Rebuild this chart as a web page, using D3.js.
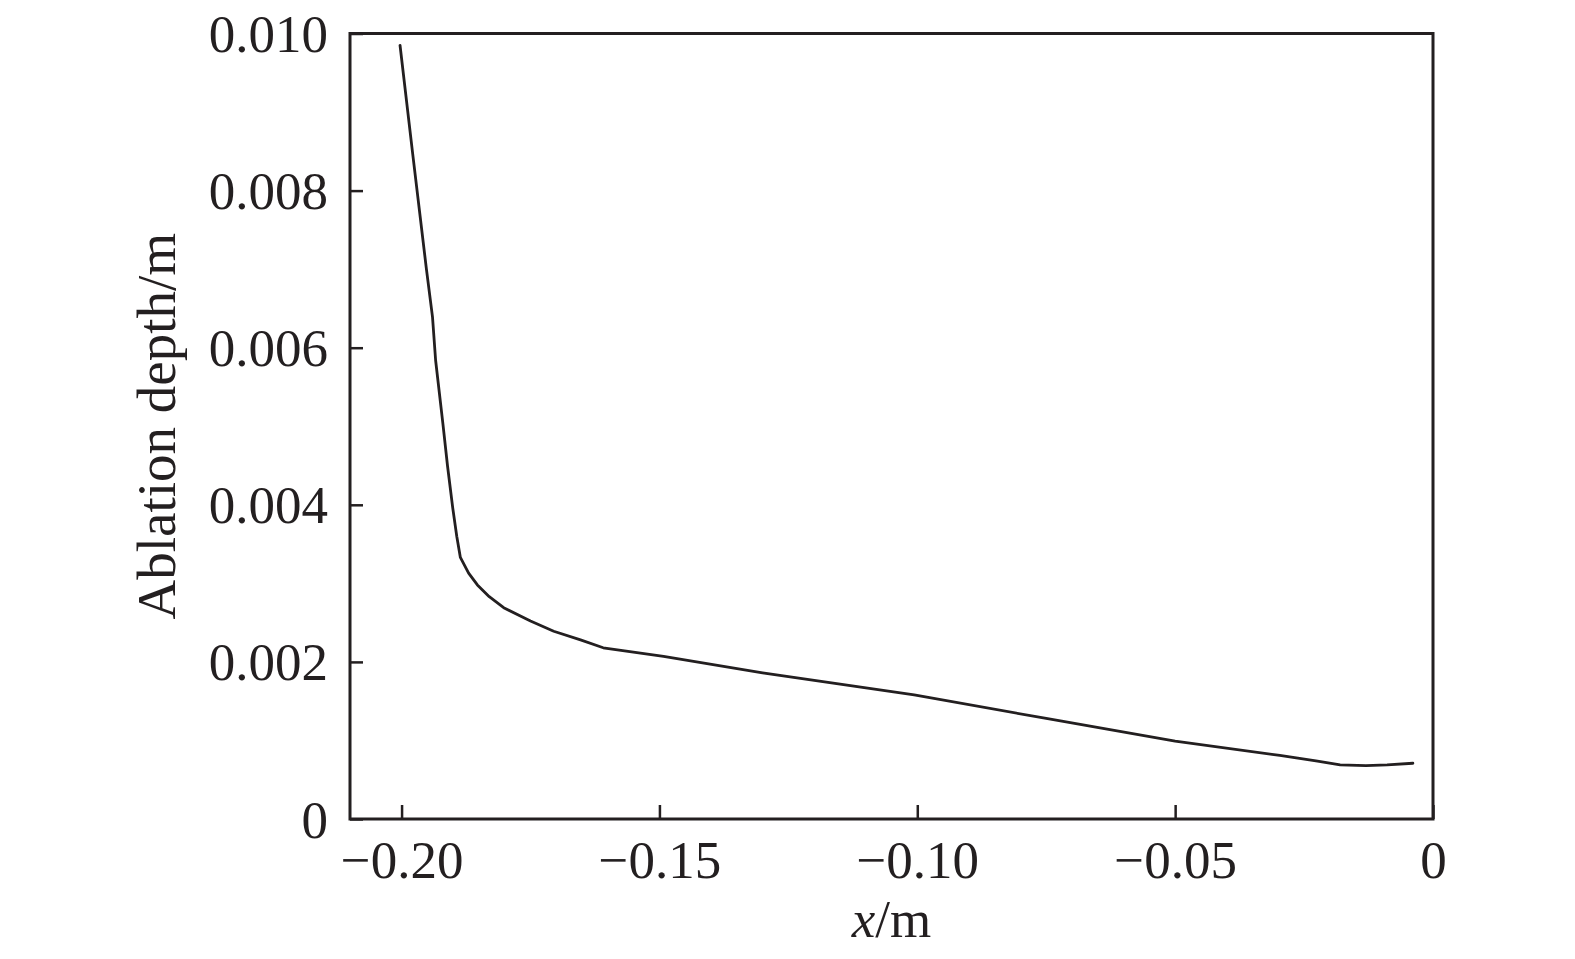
<!DOCTYPE html>
<html>
<head>
<meta charset="utf-8">
<script src="https://cdn.jsdelivr.net/npm/d3@7"></script>
<style>
html,body{margin:0;padding:0;background:#fff;}
svg{display:block;}
text{font-family:"Liberation Serif","Times New Roman",serif;fill:#231f20;}
</style>
</head>
<body>
<svg id="chart" width="1575" height="959"></svg>
<script>
const xValues = [-0.2003, -0.1979, -0.1952, -0.1940, -0.1934, -0.1920, -0.1911, -0.1901, -0.1893, -0.1886, -0.1870, -0.1853, -0.1830, -0.1802, -0.1750, -0.1705, -0.1653, -0.1609, -0.1492, -0.1300, -0.1006, -0.0750, -0.0500, -0.0297, -0.0227, -0.0180, -0.0130, -0.0089, -0.0039];
const depthValues = [0.00985, 0.00850, 0.00701, 0.00639, 0.00584, 0.00504, 0.00450, 0.00397, 0.00360, 0.00333, 0.00313, 0.00298, 0.00283, 0.00269, 0.00252, 0.00239, 0.00228, 0.00218, 0.00207, 0.00186, 0.00158, 0.00128, 0.00099, 0.00081, 0.00074, 0.00069, 0.00068, 0.00069, 0.00071];
const xTicks = [-0.20, -0.15, -0.10, -0.05, 0];
const xTickLabels = ["\u22120.20", "\u22120.15", "\u22120.10", "\u22120.05", "0"];
const yTicks = [0, 0.002, 0.004, 0.006, 0.008, 0.010];
const yTickLabels = ["0", "0.002", "0.004", "0.006", "0.008", "0.010"];
const xTitle = "x";
const yTitle = "Ablation depth/m";

(function () {
const ink = "#231f20";
const pL = 350, pR = 1433, pT = 33.5, pB = 819;
const svg = d3.select("#chart");

const x = d3.scaleLinear().domain([-0.21, 0]).range([pL, pR]);
const y = d3.scaleLinear().domain([0, 0.010]).range([pB, pT]);

// frame
svg.append("rect")
  .attr("x", pL).attr("y", pT)
  .attr("width", pR - pL).attr("height", pB - pT)
  .attr("fill", "none").attr("stroke", ink).attr("stroke-width", 3);

// x axis (ticks inward)
const xAxis = d3.axisBottom(x).tickValues(xTicks).tickSizeInner(-14).tickSizeOuter(0)
  .tickFormat((d, i) => xTickLabels[i]).tickPadding(21);
const gx = svg.append("g").attr("transform", `translate(0,${pB})`).call(xAxis);
gx.select(".domain").remove();
gx.selectAll(".tick line").attr("stroke", ink).attr("stroke-width", 2.5);
gx.selectAll(".tick text").attr("font-size", 53).attr("font-family", "Liberation Serif").attr("fill", ink)
  .attr("dy", "0.71em");

// y axis (ticks inward)
const yAxis = d3.axisLeft(y).tickValues(yTicks).tickSizeInner(-13).tickSizeOuter(0)
  .tickFormat((d, i) => yTickLabels[i]).tickPadding(22);
const gy = svg.append("g").attr("transform", `translate(${pL},0)`).call(yAxis);
gy.select(".domain").remove();
gy.selectAll(".tick line").attr("stroke", ink).attr("stroke-width", 2.5);
gy.selectAll(".tick text").attr("font-size", 53).attr("font-family", "Liberation Serif").attr("fill", ink)
  .attr("dy", "0.34em");

// data line
const data = xValues.map((v, i) => [v, depthValues[i]]);
svg.append("path")
  .datum(data)
  .attr("fill", "none")
  .attr("stroke", ink)
  .attr("stroke-width", 2.8)
  .attr("stroke-linejoin", "round")
  .attr("stroke-linecap", "round")
  .attr("d", d3.line().x(d => x(d[0])).y(d => y(d[1])));

// x title
const xt = svg.append("text")
  .attr("x", (pL + pR) / 2).attr("y", 937)
  .attr("text-anchor", "middle").attr("font-size", 53);
xt.append("tspan").attr("font-style", "italic").text(xTitle);
xt.append("tspan").text("/m");

// y title
svg.append("text")
  .attr("transform", `translate(175,${(pT + pB) / 2}) rotate(-90)`)
  .attr("text-anchor", "middle").attr("font-size", 55)
  .text(yTitle);
})();
</script>
</body>
</html>
